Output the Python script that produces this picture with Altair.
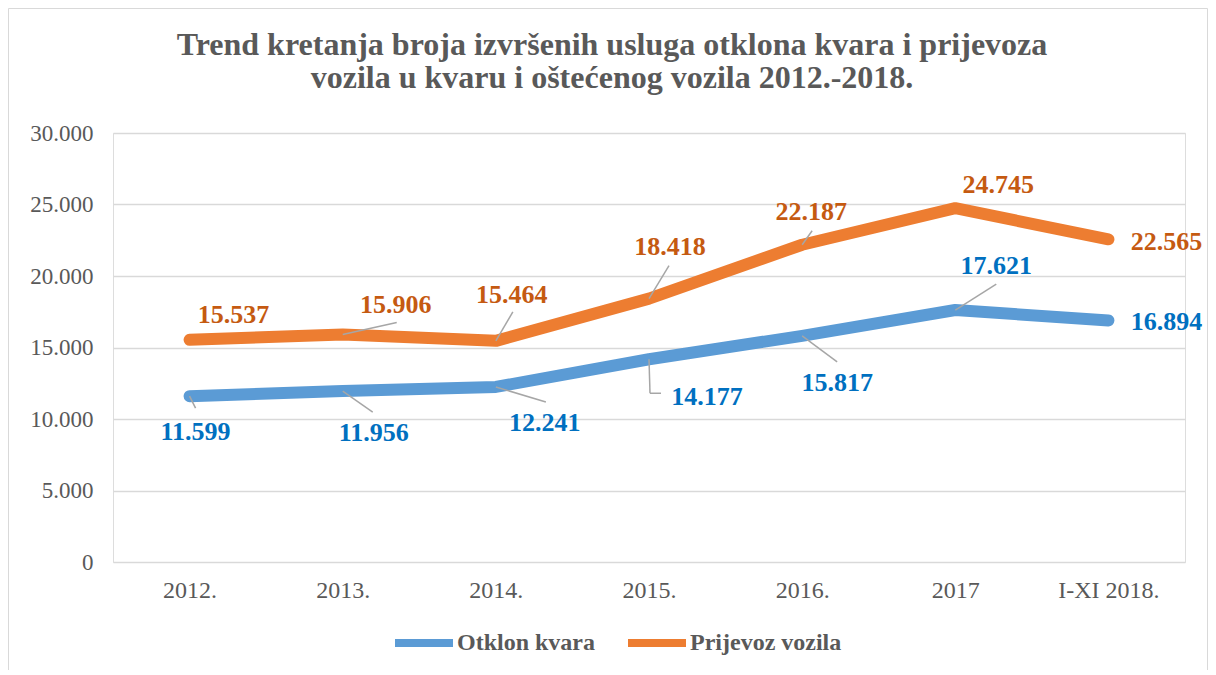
import altair as alt
import pandas as pd

# ---------------- data ----------------
categories = ["2012.", "2013.", "2014.", "2015.", "2016.", "2017", "I-XI 2018."]
otklon_kvara = [11599, 11956, 12241, 14177, 15817, 17621, 16894]
prijevoz_vozila = [15537, 15906, 15464, 18418, 22187, 24745, 22565]
series_names = ["Otklon kvara", "Prijevoz vozila"]
y_ticks = [0, 5000, 10000, 15000, 20000, 25000, 30000]
title_lines = [
    "Trend kretanja broja izvršenih usluga otklona kvara i prijevoza",
    "vozila u kvaru i oštećenog vozila 2012.-2018.",
]

# ---------------- styles ----------------
line_colors = ["#5B9BD5", "#ED7D31"]
label_colors = ["#0070C0", "#C55A11"]
FONT = "Liberation Serif"
GREY_TEXT = "#595959"
GRID = "#D9D9D9"
LEADER = "#A6A6A6"

# label offsets (px) from each data point, per series
label_offsets = {
    "Otklon kvara": [(6, 36), (31, 42), (49, 36), (58, 38), (35, 47), (41, -44), (58, 2)],
    "Prijevoz vozila": [(44, -25), (53, -30), (16, -46), (21, -52), (9, -33), (43, -23), (58, 3)],
}
# leader segments (x0, y0, x1, y1) in px relative to each data point
leader_segments = {
    "Otklon kvara": [
        [(0, 0, 6, 12)], [(0, 0, 30, 21)], [(0, 0, 50, 15)],
        [(0, 0, 1, 34), (1, 34, 12, 34)], [(0, 0, 35, 26)], [(0, 0, 41, -26)], [],
    ],
    "Prijevoz vozila": [
        [], [(0, 0, 54, -12)], [(0, 0, 17, -29)], [(0, 0, 20, -33)], [(0, 0, 10, -14)], [], [],
    ],
}

rows = []
for name, vals in zip(series_names, [otklon_kvara, prijevoz_vozila]):
    for c, v in zip(categories, vals):
        rows.append({"Godina": c, "Serija": name, "Vrijednost": v})
df = pd.DataFrame(rows)

PLOT_W, PLOT_H = 1072, 429

x_enc = alt.X(
    "Godina:N",
    sort=categories,
    scale=alt.Scale(domain=categories, type="point", padding=0.5),
    axis=alt.Axis(
        title=None, labelAngle=0, ticks=False, domain=False, grid=False,
        labelFont=FONT, labelFontSize=24, labelColor=GREY_TEXT, labelPadding=16,
    ),
)
y_enc = alt.Y(
    "Vrijednost:Q",
    scale=alt.Scale(domain=[0, 30000], nice=False, zero=True),
    axis=alt.Axis(
        title=None, values=y_ticks, ticks=False, domain=False,
        grid=True, gridColor=GRID, gridWidth=1.5,
        labelFont=FONT, labelFontSize=23, labelColor=GREY_TEXT, labelPadding=20,
        labelExpr="replace(format(datum.value, ','), ',', '.')",
    ),
)

base = alt.Chart(df).transform_calculate(
    label="replace(format(datum.Vrijednost, ','), ',', '.')"
)

lines = base.mark_line(strokeWidth=12, strokeCap="round", strokeJoin="round").encode(
    x=x_enc,
    y=y_enc,
    color=alt.Color(
        "Serija:N",
        scale=alt.Scale(domain=series_names, range=line_colors),
        legend=alt.Legend(
            title=None, orient="none", legendX=278, legendY=477,
            direction="horizontal", columns=2,
            symbolType="stroke", symbolSize=3364, symbolStrokeWidth=8,
            labelFont=FONT, labelFontSize=24, labelFontWeight="bold",
            labelColor=GREY_TEXT, labelOffset=0, columnPadding=16,
        ),
    ),
)

layers = [lines]

# leader lines
for si, name in enumerate(series_names):
    for ci, cat in enumerate(categories):
        for (a, b, c, d) in leader_segments[name][ci]:
            seg = base.transform_filter(
                f"datum.Serija == '{name}' && datum.Godina == '{cat}'"
            ).mark_rule(
                color=LEADER, strokeWidth=1.5,
                xOffset=a, yOffset=b, x2Offset=c, y2Offset=d,
            ).encode(
                x=x_enc, y=y_enc, x2=alt.X2("Godina:N"), y2=alt.Y2("Vrijednost:Q")
            )
            layers.append(seg)

# value labels
for si, name in enumerate(series_names):
    for ci, cat in enumerate(categories):
        dx, dy = label_offsets[name][ci]
        txt = base.transform_filter(
            f"datum.Serija == '{name}' && datum.Godina == '{cat}'"
        ).mark_text(
            dx=dx, dy=dy, align="center", baseline="middle",
            font=FONT, fontSize=26, fontWeight="bold", color=label_colors[si],
        ).encode(x=x_enc, y=y_enc, text="label:N")
        layers.append(txt)

# chart title (two centred lines) and outer chart border
one = pd.DataFrame({"k": [0]})
for line_text, ty in zip(title_lines, [-78, -45]):
    layers.append(
        alt.Chart(one).mark_text(
            align="center", baseline="alphabetic", font=FONT, fontSize=32,
            fontWeight="bold", color=GREY_TEXT,
        ).encode(x=alt.value(499), y=alt.value(ty), text=alt.value(line_text))
    )

layers.append(
    alt.Chart(one).mark_rect(filled=False, stroke=GRID, strokeWidth=1).encode(
        x=alt.value(-104.5), x2=alt.value(1094.5), y=alt.value(-124.5), y2=alt.value(600)
    )
)

chart = alt.layer(*layers).properties(
    width=PLOT_W,
    height=PLOT_H,
    autosize=alt.AutoSizeParams(type="none"),
    padding={"left": 105, "top": 125, "right": 23, "bottom": 108},
).configure_view(stroke=None).configure(background="white")

chart.save("out.html", embed_options={"renderer": "svg", "actions": False})
